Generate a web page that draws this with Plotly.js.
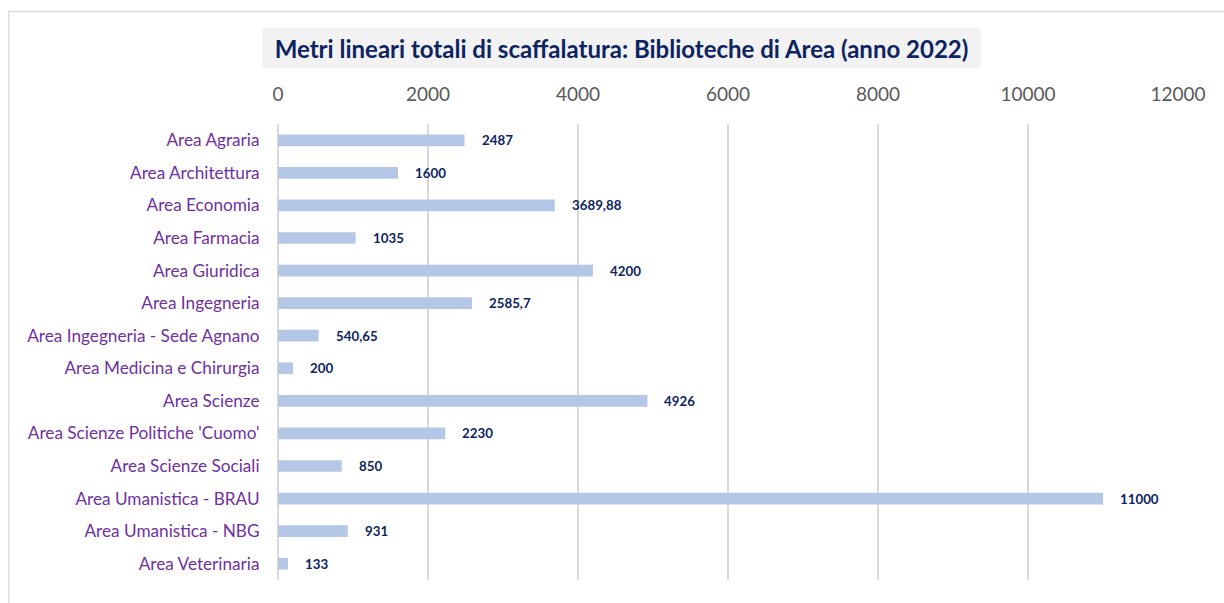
<!DOCTYPE html>
<html>
<head>
<meta charset="utf-8">
<script src="https://cdn.plot.ly/plotly-3.0.1.min.js"></script>
<style>
  html, body { margin: 0; padding: 0; background: #ffffff; }
  #chart { width: 1224px; height: 603px; }
</style>
</head>
<body>
<div id="chart"></div>
<script>
// ---- data ----
const categories = [
  "Area Agraria",
  "Area Architettura",
  "Area Economia",
  "Area Farmacia",
  "Area Giuridica",
  "Area Ingegneria",
  "Area Ingegneria - Sede Agnano",
  "Area Medicina e Chirurgia",
  "Area Scienze",
  "Area Scienze Politiche 'Cuomo'",
  "Area Scienze Sociali",
  "Area Umanistica - BRAU",
  "Area Umanistica - NBG",
  "Area Veterinaria"
];
const values = [2487, 1600, 3689.88, 1035, 4200, 2585.7, 540.65, 200, 4926, 2230, 850, 11000, 931, 133];
const tickValues = [0, 2000, 4000, 6000, 8000, 10000, 12000];
const tickLabels = ["0", "2000", "4000", "6000", "8000", "10000", "12000"];
const chartTitle = "Metri lineari totali di scaffalatura: Biblioteche di Area (anno 2022)";

// ---- layout constants ----
const W = 1224, H = 603;
const mL = 277.7, mR = W - 1177.7, mT = 124, mB = H - 580;
const plotW = W - mL - mR, plotH = H - mT - mB;
const px2x = p => (p - mL) / plotW;
const py2y = p => (H - mB - p) / plotH;

const labelText = values.map(v => String(v).replace('.', ','));

const valueAnnotations = values.map((v, i) => ({
  x: v, y: categories[i], xref: 'x', yref: 'y',
  text: '<b>' + labelText[i] + '</b>',
  showarrow: false, xanchor: 'left', yanchor: 'middle', xshift: 15,
  font: { family: 'Lato, "Open Sans", sans-serif', size: 13.3, color: '#0c2461' }
}));

const titleAnnotation = {
  xref: 'paper', yref: 'paper',
  x: px2x(621.5), y: py2y(47.7),
  xanchor: 'center', yanchor: 'middle',
  width: 717, height: 40,
  bgcolor: '#f2f2f2', borderpad: 0,
  showarrow: false,
  text: '<b>' + chartTitle + '</b>',
  font: { family: 'Lato, "Open Sans", sans-serif', size: 24, color: '#0c2461' }
};

const trace = {
  type: 'bar', orientation: 'h',
  x: values, y: categories,
  width: 0.36,
  marker: { color: '#b4c7e7' },
  hoverinfo: 'skip'
};

const layout = {
  width: W, height: H,
  margin: { l: mL, r: mR, t: mT, b: mB, pad: 0 },
  paper_bgcolor: '#ffffff', plot_bgcolor: '#ffffff',
  showlegend: false,
  bargap: 0.64,
  xaxis: {
    side: 'top', range: [0, 12000], fixedrange: true,
    tickvals: tickValues, ticktext: tickLabels,
    ticks: 'outside', ticklen: 14, tickcolor: 'rgba(0,0,0,0)',
    tickfont: { family: 'Lato, "Open Sans", sans-serif', size: 19, color: '#595959' },
    showgrid: true, gridcolor: '#d9d9d9', gridwidth: 1.4,
    zeroline: true, zerolinecolor: '#d9d9d9', zerolinewidth: 1.4,
    showline: false
  },
  yaxis: {
    type: 'category', autorange: 'reversed', fixedrange: true,
    ticks: 'outside', ticklen: 14, tickcolor: 'rgba(0,0,0,0)',
    tickfont: { family: 'Lato, "Open Sans", sans-serif', size: 17.2, color: '#7030a0' },
    showgrid: false, zeroline: false, showline: false
  },
  shapes: [{
    type: 'rect', xref: 'paper', yref: 'paper', layer: 'below',
    x0: px2x(8.5), x1: px2x(1240), y0: py2y(11.5), y1: py2y(620),
    line: { color: '#d9d9d9', width: 1.3 }, fillcolor: 'rgba(0,0,0,0)'
  }],
  annotations: [titleAnnotation].concat(valueAnnotations)
};

Plotly.newPlot('chart', [trace], layout, { displayModeBar: false, staticPlot: true });
</script>
</body>
</html>
